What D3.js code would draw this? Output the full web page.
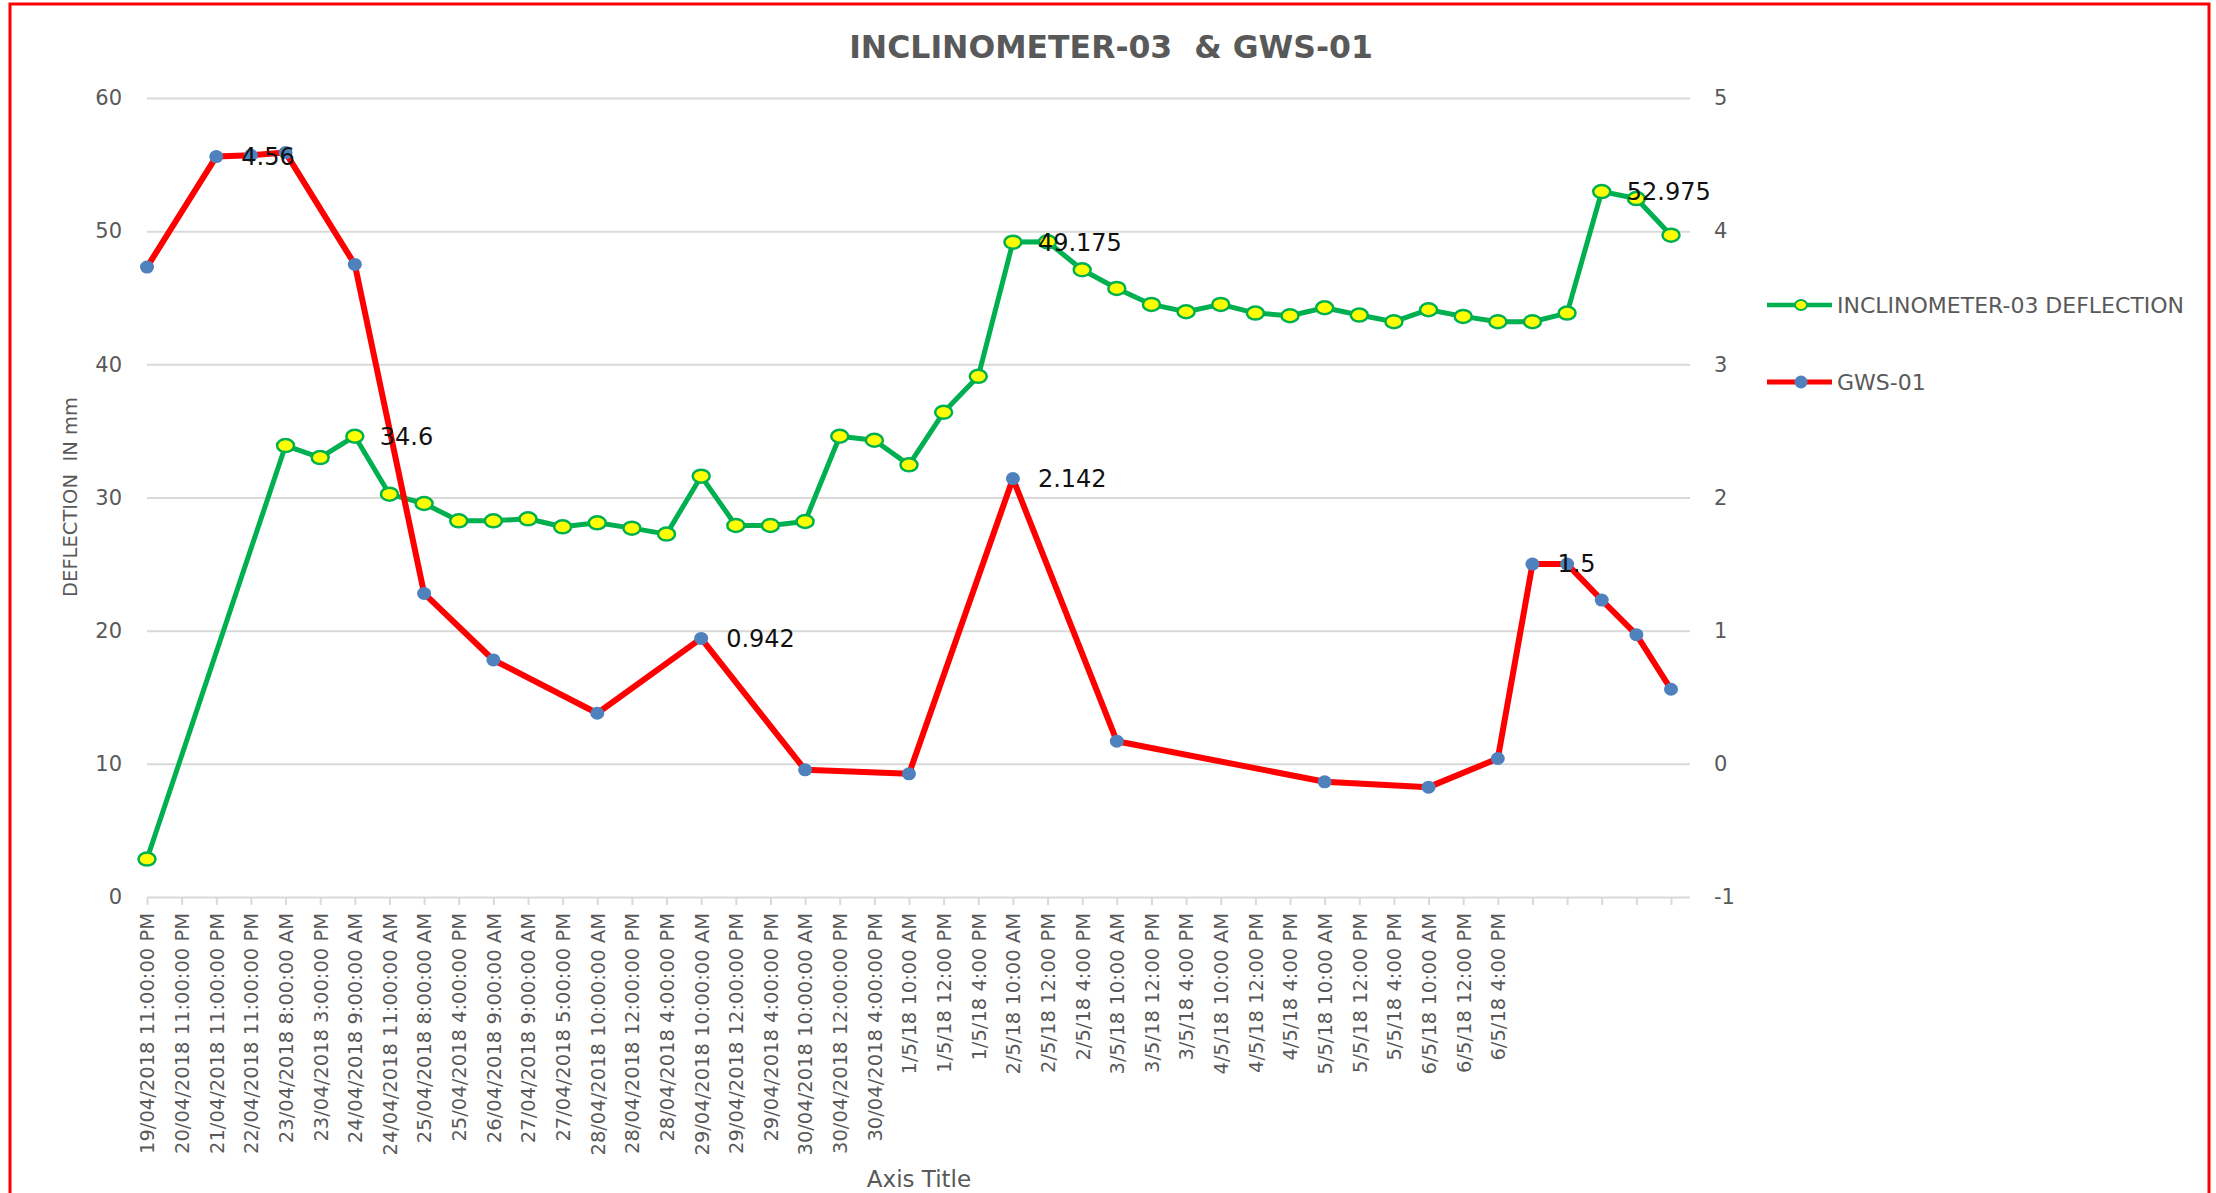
<!DOCTYPE html>
<html>
<head>
<meta charset="utf-8">
<script src="https://cdn.jsdelivr.net/npm/d3@7"></script>
<style>
  body { margin: 0; background: #ffffff; }
  svg text { font-family: "DejaVu Sans", sans-serif; }
</style>
</head>
<body>
<svg></svg>
<script>
// size of the page and the plot box
var screenWidth = 2216,
    screenHeight = 1193,
    plot = {"left": 147, "right": 1671, "gridEnd": 1690, "top": 98, "bottom": 897};

// category labels (last 5 points have no label)
var xLabels = ["19/04/2018 11:00:00 PM", "20/04/2018 11:00:00 PM", "21/04/2018 11:00:00 PM",
               "22/04/2018 11:00:00 PM", "23/04/2018 8:00:00 AM", "23/04/2018 3:00:00 PM",
               "24/04/2018 9:00:00 AM", "24/04/2018 11:00:00 AM", "25/04/2018 8:00:00 AM",
               "25/04/2018 4:00:00 PM", "26/04/2018 9:00:00 AM", "27/04/2018 9:00:00 AM",
               "27/04/2018 5:00:00 PM", "28/04/2018 10:00:00 AM", "28/04/2018 12:00:00 PM",
               "28/04/2018 4:00:00 PM", "29/04/2018 10:00:00 AM", "29/04/2018 12:00:00 PM",
               "29/04/2018 4:00:00 PM", "30/04/2018 10:00:00 AM", "30/04/2018 12:00:00 PM",
               "30/04/2018 4:00:00 PM",
               "1/5/18 10:00 AM", "1/5/18 12:00 PM", "1/5/18 4:00 PM",
               "2/5/18 10:00 AM", "2/5/18 12:00 PM", "2/5/18 4:00 PM",
               "3/5/18 10:00 AM", "3/5/18 12:00 PM", "3/5/18 4:00 PM",
               "4/5/18 10:00 AM", "4/5/18 12:00 PM", "4/5/18 4:00 PM",
               "5/5/18 10:00 AM", "5/5/18 12:00 PM", "5/5/18 4:00 PM",
               "6/5/18 10:00 AM", "6/5/18 12:00 PM", "6/5/18 4:00 PM",
               "", "", "", "", ""];

// INCLINOMETER-03 DEFLECTION (left axis, mm)
var inclinometer = [2.85, null, null, null, 33.9, 33.0, 34.6, 30.25, 29.55, 28.25,
                    28.25, 28.4, 27.8, 28.1, 27.7, 27.25, 31.6, 27.9, 27.9, 28.2,
                    34.6, 34.3, 32.45, 36.4, 39.1, 49.175, 49.2, 47.1, 45.7, 44.5,
                    43.95, 44.5, 43.85, 43.65, 44.25, 43.7, 43.2, 44.1, 43.6, 43.2,
                    43.2, 43.85, 52.975, 52.45, 49.7];

// GWS-01 (right axis)
var gws = [3.73, null, 4.56, 4.57, 4.59, null, 3.75, null, 1.28, null,
           0.78, null, null, 0.38, null, null, 0.942, null, null, -0.045,
           null, null, -0.075, null, null, 2.142, null, null, 0.17, null,
           null, null, null, null, -0.135, null, null, -0.175, null, 0.04,
           1.5, 1.5, 1.23, 0.97, 0.56];

var leftTicks = [0, 10, 20, 30, 40, 50, 60],
    rightTicks = [-1, 0, 1, 2, 3, 4, 5];

// which points carry a data label
var inclinometerLabelAt = [6, 25, 42],
    gwsLabelAt = [2, 16, 25, 40];

var grey = "#595959";

var xScale = d3.scalePoint()
               .domain(d3.range(xLabels.length))
               .range([plot.left, plot.right]),
    yLeft = d3.scaleLinear().domain([0, 60]).range([plot.bottom, plot.top]),
    yRight = d3.scaleLinear().domain([-1, 5]).range([plot.bottom, plot.top]);

var svg = d3.select("svg")
            .attr("width", screenWidth)
            .attr("height", screenHeight);

svg.append("rect")
   .attr("width", screenWidth)
   .attr("height", screenHeight)
   .attr("fill", "#ffffff");

// red frame round the chart
svg.append("rect")
   .attr("x", 10)
   .attr("y", 4)
   .attr("width", 2199)
   .attr("height", 1220)
   .attr("fill", "none")
   .attr("stroke", "#ff0000")
   .attr("stroke-width", 3);

// horizontal gridlines
svg.append("g")
   .attr("transform", "translate(" + plot.left + ",0)")
   .call(d3.axisRight(yLeft).tickValues(leftTicks)
           .tickSize(plot.gridEnd - plot.left).tickFormat(""))
   .call(function(g) { g.select(".domain").remove(); })
   .selectAll("line")
   .attr("stroke", "#d9d9d9")
   .attr("stroke-width", 2);

// x axis with rotated labels
var xAxis = d3.axisBottom(xScale)
              .tickSize(8)
              .tickFormat(function(i) { return xLabels[i]; });

var xg = svg.append("g")
   .attr("transform", "translate(0," + plot.bottom + ")")
   .call(xAxis);
xg.select(".domain").remove();
xg.selectAll(".tick line")
  .attr("stroke", "#d9d9d9")
  .attr("stroke-width", 2);
xg.selectAll(".tick text")
  .attr("transform", "rotate(-90)")
  .attr("x", -16)
  .attr("y", 0)
  .attr("dy", "0.35em")
  .attr("text-anchor", "end")
  .attr("fill", grey)
  .style("font-size", "19.5px")
  .style("font-family", "DejaVu Sans");

// plain number labels, "-1" with a normal hyphen like Excel
var plainNumber = function(d) { return String(d); };

// left axis labels
var lg = svg.append("g")
   .attr("transform", "translate(122,0)")
   .call(d3.axisLeft(yLeft).tickValues(leftTicks).tickSize(0).tickPadding(0)
           .tickFormat(plainNumber));
lg.select(".domain").remove();
lg.selectAll("text")
  .attr("fill", grey)
  .style("font-size", "21px")
  .style("font-family", "DejaVu Sans");

// right axis labels
var rg = svg.append("g")
   .attr("transform", "translate(1714,0)")
   .call(d3.axisRight(yRight).tickValues(rightTicks).tickSize(0).tickPadding(0)
           .tickFormat(plainNumber));
rg.select(".domain").remove();
rg.selectAll("text")
  .attr("fill", grey)
  .style("font-size", "21px")
  .style("font-family", "DejaVu Sans");

// turn an array with gaps into points (Excel joins over the gaps)
function toPoints(values) {
  return values.map(function(v, i) { return {"i": i, "v": v}; })
               .filter(function(d) { return d.v !== null; });
}

var inclPts = toPoints(inclinometer),
    gwsPts = toPoints(gws);

var inclLine = d3.line()
                 .x(function(d) { return xScale(d.i); })
                 .y(function(d) { return yLeft(d.v); }),
    gwsLine = d3.line()
                .x(function(d) { return xScale(d.i); })
                .y(function(d) { return yRight(d.v); });

svg.append("path")
   .datum(inclPts)
   .attr("d", inclLine)
   .attr("fill", "none")
   .attr("stroke", "#00b050")
   .attr("stroke-width", 5)
   .attr("stroke-linejoin", "round");

svg.selectAll(".inclDot")
   .data(inclPts)
   .enter().append("ellipse")
   .attr("class", "inclDot")
   .attr("cx", function(d) { return xScale(d.i); })
   .attr("cy", function(d) { return yLeft(d.v); })
   .attr("rx", 8.5)
   .attr("ry", 6.5)
   .attr("fill", "#ffff00")
   .attr("stroke", "#00b050")
   .attr("stroke-width", 2.5);

svg.append("path")
   .datum(gwsPts)
   .attr("d", gwsLine)
   .attr("fill", "none")
   .attr("stroke", "#ff0000")
   .attr("stroke-width", 6)
   .attr("stroke-linejoin", "round");

svg.selectAll(".gwsDot")
   .data(gwsPts)
   .enter().append("ellipse")
   .attr("class", "gwsDot")
   .attr("cx", function(d) { return xScale(d.i); })
   .attr("cy", function(d) { return yRight(d.v); })
   .attr("rx", 7)
   .attr("ry", 6.5)
   .attr("fill", "#4f81bd");

// data labels, to the right of the point
function addLabels(idx, values, yScale) {
  svg.selectAll(null)
     .data(idx)
     .enter().append("text")
     .attr("x", function(i) { return xScale(i) + 25; })
     .attr("y", function(i) { return yScale(values[i]); })
     .attr("dy", "0.35em")
     .attr("fill", "#111111")
     .style("font-size", "24px")
     .text(function(i) { return String(values[i]); });
}
addLabels(inclinometerLabelAt, inclinometer, yLeft);
addLabels(gwsLabelAt, gws, yRight);

// title
svg.append("text")
   .attr("x", 1111)
   .attr("y", 47)
   .attr("dy", "0.35em")
   .attr("text-anchor", "middle")
   .attr("fill", grey)
   .style("font-size", "31.5px")
   .style("font-weight", "bold")
   .style("white-space", "pre")
   .text("INCLINOMETER-03  & GWS-01");

// y axis title
svg.append("text")
   .attr("transform", "translate(70,497) rotate(-90)")
   .attr("dy", "0.35em")
   .attr("text-anchor", "middle")
   .attr("fill", grey)
   .style("font-size", "19.5px")
   .style("white-space", "pre")
   .text("DEFLECTION  IN mm");

// x axis title
svg.append("text")
   .attr("x", 919)
   .attr("y", 1179)
   .attr("dy", "0.35em")
   .attr("text-anchor", "middle")
   .attr("fill", grey)
   .style("font-size", "23px")
   .text("Axis Title");

// legend
var legendItems = [
  {"name": "INCLINOMETER-03 DEFLECTION", "line": "#00b050", "fill": "#ffff00", "y": 305},
  {"name": "GWS-01", "line": "#ff0000", "fill": "#4f81bd", "y": 382}
];

var legend = svg.selectAll(".legend")
   .data(legendItems)
   .enter().append("g")
   .attr("class", "legend")
   .attr("transform", function(d) { return "translate(1767," + d.y + ")"; });

legend.append("line")
      .attr("x1", 0)
      .attr("x2", 65)
      .attr("stroke", function(d) { return d.line; })
      .attr("stroke-width", function(d, i) { return i === 0 ? 4.5 : 5; });

legend.append("ellipse")
      .attr("cx", 34)
      .attr("rx", function(d, i) { return i === 0 ? 6 : 6.5; })
      .attr("ry", function(d, i) { return i === 0 ? 5 : 6.5; })
      .attr("fill", function(d) { return d.fill; })
      .attr("stroke", function(d, i) { return i === 0 ? d.line : "none"; })
      .attr("stroke-width", 2);

legend.append("text")
      .attr("x", 70)
      .attr("dy", "0.35em")
      .attr("fill", grey)
      .style("font-size", "22px")
      .text(function(d) { return d.name; });
</script>
</body>
</html>
